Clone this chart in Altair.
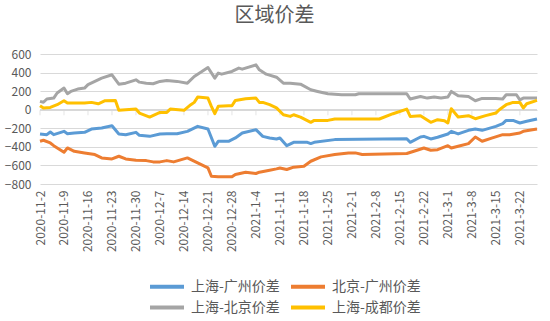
import altair as alt
import pandas as pd

FONT = "Noto Sans CJK SC"
TEXT_COLOR = "#595959"

series_names = ["上海-广州价差", "北京-广州价差", "上海-北京价差", "上海-成都价差"]
series_colors = ["#5B9BD5", "#ED7D31", "#A5A5A5", "#FFC000"]

start_date = "2020-11-02"
end_date = "2021-03-27"

# day offsets from 2020-11-02 and values for each series
sh_gz_days = [0, 2, 3, 4, 7, 8, 10, 13, 15, 18, 21, 23, 25, 28, 29, 32, 35, 37, 40, 43,
              46, 49, 51, 52, 55, 57, 59, 63, 65, 67, 69, 70, 72, 74, 78, 79, 80, 86, 107, 108,
              111, 112, 114, 116, 119, 120, 122, 125, 127, 129, 133, 135, 136, 138, 140, 142, 145]
sh_gz_vals = [-261, -269, -240, -269, -233, -258, -251, -244, -208, -197, -172, -261, -269, -244, -276, -287, -261, -258, -258, -233,
              -179, -208, -394, -340, -340, -304, -251, -215, -287, -304, -315, -304, -387, -351, -351, -365, -351, -322, -312, -351,
              -294, -287, -315, -297, -261, -233, -261, -222, -208, -222, -179, -150, -115, -115, -143, -125, -100]

bj_gz_days = [0, 1, 3, 4, 7, 8, 10, 13, 16, 18, 21, 23, 25, 28, 31, 33, 35, 37, 39, 43,
              46, 49, 50, 52, 56, 57, 60, 63, 64, 67, 69, 70, 72, 74, 77, 79, 82, 86, 90, 92,
              94, 107, 110, 112, 114, 116, 119, 120, 122, 125, 127, 129, 132, 135, 137, 140, 141, 145]
bj_gz_vals = [-340, -329, -358, -387, -458, -412, -448, -465, -483, -519, -530, -501, -530, -544, -548, -562, -562, -548, -562, -519,
              -573, -627, -716, -723, -723, -698, -673, -687, -673, -652, -637, -627, -644, -619, -609, -555, -508, -483, -465, -465,
              -483, -472, -437, -412, -437, -430, -387, -412, -394, -365, -294, -340, -304, -269, -269, -251, -233, -208]

sh_bj_days = [0, 1, 2, 4, 5, 7, 8, 9, 11, 13, 14, 16, 18, 21, 23, 25, 28, 29, 31, 33,
              35, 37, 40, 43, 45, 47, 49, 51, 52, 53, 56, 58, 59, 63, 64, 66, 69, 71, 73, 76,
              79, 81, 84, 88, 92, 93, 107, 108, 111, 113, 115, 117, 119, 120, 122, 125, 127, 129, 133, 135,
              136, 139, 140, 141, 145]
sh_bj_vals = [90, 80, 115, 125, 180, 233, 172, 197, 222, 233, 270, 305, 340, 376, 275, 286, 322, 297, 286, 280,
              305, 315, 305, 286, 358, 405, 455, 340, 394, 383, 412, 448, 437, 483, 430, 383, 350, 286, 286, 275,
              215, 197, 172, 161, 161, 172, 172, 115, 143, 125, 136, 125, 136, 197, 150, 143, 97, 122, 122, 115,
              161, 161, 107, 125, 125]

sh_cd_days = [0, 1, 3, 5, 7, 8, 10, 13, 15, 17, 19, 22, 23, 25, 28, 29, 32, 35, 37, 38,
              42, 44, 45, 46, 49, 50, 51, 52, 55, 56, 57, 60, 63, 64, 65, 67, 69, 71, 73, 74,
              76, 79, 80, 84, 86, 99, 103, 107, 108, 111, 114, 116, 118, 119, 120, 122, 125, 127, 130, 133,
              134, 136, 138, 140, 141, 142, 145]
sh_cd_vals = [43, 18, 25, 54, 97, 72, 72, 72, 79, 64, 97, 100, -7, 0, 7, -36, -79, -29, -29, 7,
              -7, 54, 79, 136, 125, 36, -43, 36, 43, 43, 100, 118, 125, 79, 79, 54, 20, -54, -72, -54,
              -79, -136, -115, -115, -100, -100, -43, 7, -72, -64, -136, -107, -118, -143, 11, -79, -64, -97, -64, -36,
              0, 54, 79, 79, 18, 64, 100]

tick_labels = ["2020-11-2", "2020-11-9", "2020-11-16", "2020-11-23", "2020-11-30", "2020-12-7",
               "2020-12-14", "2020-12-21", "2020-12-28", "2021-1-4", "2021-1-11", "2021-1-18",
               "2021-1-25", "2021-2-1", "2021-2-8", "2021-2-15", "2021-2-22", "2021-3-1",
               "2021-3-8", "2021-3-15", "2021-3-22"]
y_ticks = [-800, -600, -400, -200, 0, 200, 400, 600]

base = pd.Timestamp(start_date)
rows = []
for name, days, vals in zip(series_names,
                            [sh_gz_days, bj_gz_days, sh_bj_days, sh_cd_days],
                            [sh_gz_vals, bj_gz_vals, sh_bj_vals, sh_cd_vals]):
    for d, v in zip(days, vals):
        rows.append({"series": name,
                     "date": (base + pd.Timedelta(days=d)).strftime("%Y-%m-%d"),
                     "value": v})
df = pd.DataFrame(rows)


def dt(s):
    t = pd.Timestamp(s)
    return alt.DateTime(year=t.year, month=t.month, date=t.day, utc=True)


tick_dates = [dt(s) for s in tick_labels]
tick_df = pd.DataFrame({"date": [pd.Timestamp(s).strftime("%Y-%m-%d") for s in tick_labels]})

x_scale = alt.Scale(type="utc", domain=[dt(start_date), dt(end_date)])
y_scale = alt.Scale(domain=[-800, 600], nice=False, zero=False)

x_axis = alt.Axis(values=tick_dates, format="%Y-%-m-%-d", labelAngle=-90,
                  grid=False, domain=False, ticks=False, title=None,
                  labelColor=TEXT_COLOR, labelFontSize=12, labelPadding=6,
                  labelFont=FONT, labelOverlap=False, labelBound=False,
                  labelFlush=False)
y_axis = alt.Axis(values=y_ticks, grid=True, gridColor="#D9D9D9", domain=False,
                  ticks=False, title=None, labelColor=TEXT_COLOR, labelFontSize=12,
                  labelPadding=9, labelFont=FONT, labelOverlap=False,
                  labelFlush=False)

lines = alt.Chart(df).mark_line(strokeWidth=3, strokeJoin="round").encode(
    x=alt.X("date:T", scale=x_scale, axis=x_axis),
    y=alt.Y("value:Q", scale=y_scale, axis=y_axis),
    color=alt.Color("series:N",
                    scale=alt.Scale(domain=series_names, range=series_colors),
                    legend=alt.Legend(title=None, orient="none", legendX=108, legendY=222,
                                      direction="horizontal", columns=2,
                                      symbolType="M-1,0L3,0", symbolSize=289,
                                      symbolStrokeWidth=4, labelFontSize=14, labelFont=FONT,
                                      labelColor=TEXT_COLOR, labelOffset=22, columnPadding=3,
                                      rowPadding=2, labelLimit=300)),
    detail="series:N",
)

zero_rule = alt.Chart(tick_df).mark_rule(color="#D9D9D9", strokeWidth=1).encode(
    y=alt.YDatum(0, scale=y_scale, axis=y_axis),
)

zero_ticks = alt.Chart(tick_df).mark_tick(orient="vertical", size=5, yOffset=3,
                                          color="#D9D9D9", thickness=1).encode(
    x=alt.X("date:T", scale=x_scale, axis=x_axis),
    y=alt.YDatum(0, scale=y_scale, axis=y_axis),
)

chart = alt.layer(zero_rule, zero_ticks, lines).properties(
    width=497, height=130,
    title=alt.TitleParams("区域价差", fontSize=20, font=FONT, color=TEXT_COLOR,
                          fontWeight="normal", anchor="middle", dx=-14, offset=22),
    autosize=alt.AutoSizeParams(type="none"),
    padding={"left": 40, "top": 54, "right": 13, "bottom": 137},
).configure(font=FONT).configure_view(stroke=None)

chart.save("out.html", embed_options={"renderer": "svg", "actions": False})
